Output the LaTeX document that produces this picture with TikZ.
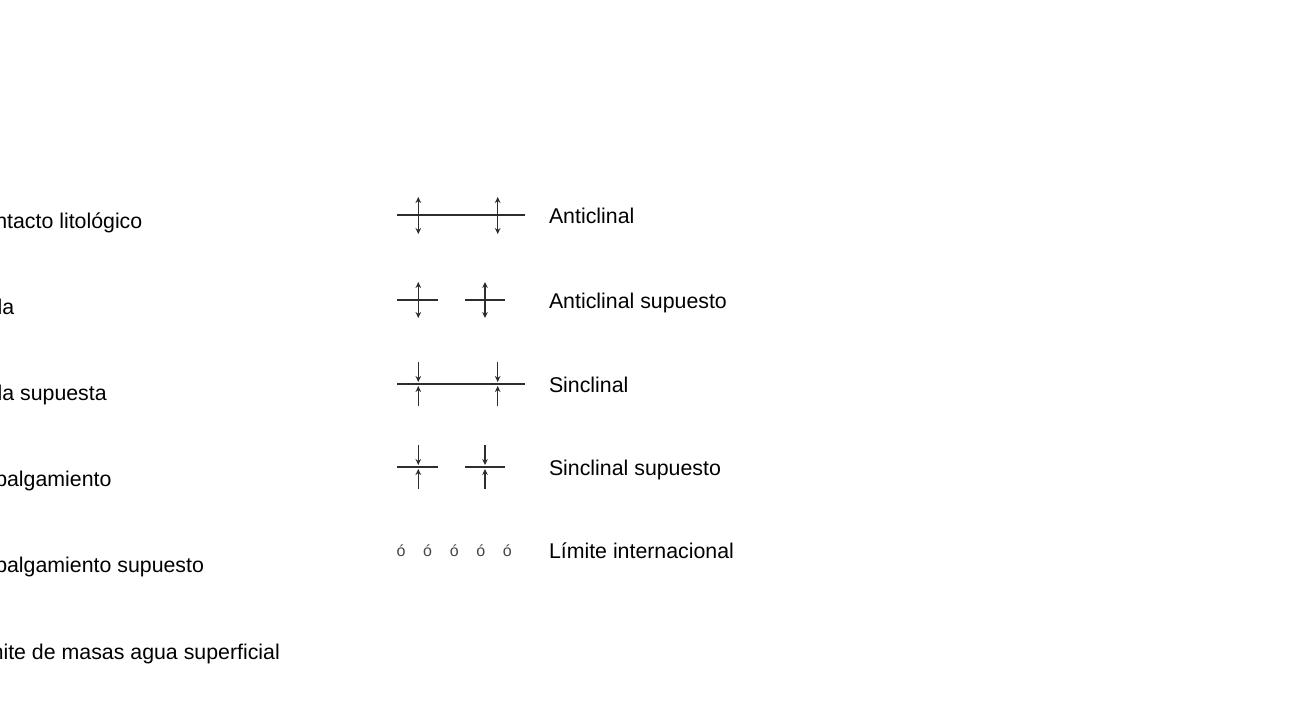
\documentclass[tikz,border=0pt]{standalone}
\usepackage{fontspec}
\setmainfont{Liberation Sans}
\usetikzlibrary{arrows.meta}
\definecolor{lncol}{RGB}{45,45,45}
\definecolor{dotcol}{RGB}{70,70,70}
\begin{document}
\begin{tikzpicture}[x=0.75pt,y=-0.75pt,
  lbl/.style={anchor=base west,inner sep=0pt,outer sep=0pt,font=\fontsize{16}{19}\selectfont},
  sym/.style={draw=lncol,line width=1.1pt},
  tipend/.style={-{Stealth[length=4.5pt,width=4.2pt]}},
  dbltip/.style={{Stealth[length=4.5pt,width=4.2pt]}-{Stealth[length=4.5pt,width=4.2pt]}},
  dotlbl/.style={anchor=base,inner sep=0pt,outer sep=0pt,text=dotcol,font=\fontsize{12}{14}\selectfont}]
\useasboundingbox (0,0) rectangle (1303,719);
\clip (0,0) rectangle (1303,719);
% left column (cut at the left edge)
\node[lbl] (l1) at (-32,228) {Contacto litológico};
\node[lbl] (l2) at (-32,314.2) {Falla};
\node[lbl] (l3) at (-32,400.4) {Falla supuesta};
\node[lbl] (l4) at (-32,486.6) {Cabalgamiento};
\node[lbl] (l5) at (-32,572.8) {Cabalgamiento supuesto};
\node[lbl] (l6) at (-32,659.5) {Límite de masas agua superficial};
% right column labels
\node[lbl] (r1) at (549,223.5) {Anticlinal};
\node[lbl] (r2) at (549,308) {Anticlinal supuesto};
\node[lbl] (r3) at (549,392) {Sinclinal};
\node[lbl] (r4) at (549,475.5) {Sinclinal supuesto};
\node[lbl] (r5) at (549,558.5) {Límite internacional};
% Anticlinal
\draw[sym] (397,215) -- (525,215);
\draw[sym,dbltip] (418.3,197) -- (418.3,234);
\draw[sym,dbltip] (497.7,197) -- (497.7,234);
% Anticlinal supuesto
\draw[sym] (397,300) -- (438,300);
\draw[sym] (465,300) -- (505,300);
\draw[sym,dbltip] (418.3,282) -- (418.3,318);
\draw[sym,dbltip] (485,282) -- (485,318);
% Sinclinal
\draw[sym] (397,384) -- (525,384);
\draw[sym,tipend] (418.3,362) -- (418.3,382);
\draw[sym,tipend] (418.3,406) -- (418.3,386);
\draw[sym,tipend] (497.7,362) -- (497.7,382);
\draw[sym,tipend] (497.7,406) -- (497.7,386);
% Sinclinal supuesto
\draw[sym] (397,467) -- (438,467);
\draw[sym] (465,467) -- (505,467);
\draw[sym,tipend] (418.3,445) -- (418.3,465);
\draw[sym,tipend] (418.3,489) -- (418.3,469);
\draw[sym,tipend] (485,445) -- (485,465);
\draw[sym,tipend] (485,489) -- (485,469);
% Limite internacional
\node[dotlbl] (d1) at (401,556.5) {ó};
\node[dotlbl] (d2) at (427.6,556.5) {ó};
\node[dotlbl] (d3) at (454.2,556.5) {ó};
\node[dotlbl] (d4) at (480.8,556.5) {ó};
\node[dotlbl] (d5) at (507.4,556.5) {ó};
\end{tikzpicture}
\end{document}
